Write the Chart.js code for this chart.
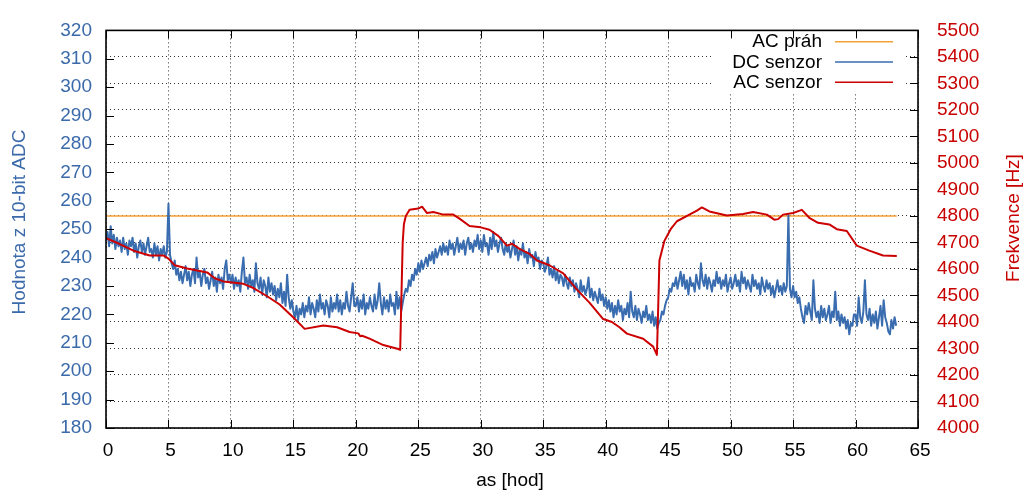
<!DOCTYPE html>
<html>
<head>
<meta charset="utf-8">
<script src="https://cdn.jsdelivr.net/npm/chart.js@4.4.1/dist/chart.umd.min.js"></script>
<style>
  html, body { margin: 0; padding: 0; background: #ffffff; }
  #wrap { width: 1027px; height: 491px; }
</style>
</head>
<body>
<div id="wrap"><canvas id="chart" width="1027" height="491"></canvas></div>
<script>
// Series labels, in legend order
const seriesLabels = ['AC práh', 'DC senzor', 'AC senzor'];

// Frequency threshold (right axis, Hz)
const thresholdHours = [0, 63.3];
const thresholdHz = [4800, 4800];

// DC sensor readings (left axis, raw 10-bit ADC), one sample every 7.5 minutes from hour 0
const dcStartHour = 0;
const dcStepHours = 0.125;
const dcValues = [
  // 0 - 5 h
  246, 249, 244, 251, 245, 248, 243, 247, 244, 246, 242, 247, 243, 245, 241, 246, 244, 247, 242, 245,
  240, 244, 246, 242, 245, 241, 244, 247, 242, 243, 240, 245, 241, 244, 239, 243, 241, 244, 240, 242,
  // 5 - 10 h
  259, 241, 238, 236, 239, 234, 236, 232, 235, 231, 234, 237, 232, 235, 230, 234, 236, 231, 240, 233,
  235, 230, 234, 236, 231, 233, 229, 232, 235, 230, 233, 228, 234, 231, 233, 229, 236, 239, 232, 234,
  // 10 - 15 h
  231, 234, 229, 233, 230, 232, 228, 235, 240, 231, 233, 229, 234, 230, 232, 228, 238, 231, 229, 233,
  227, 232, 230, 226, 233, 228, 231, 227, 230, 225, 229, 226, 231, 224, 228, 223, 234, 226, 222, 225,
  // 15 - 20 h
  221, 219, 223, 218, 222, 220, 224, 219, 223, 221, 226, 220, 224, 222, 219, 225, 221, 227, 222, 224,
  220, 225, 223, 219, 226, 221, 224, 222, 227, 221, 225, 220, 224, 222, 228, 223, 221, 226, 231, 223,
  // 20 - 25 h
  223, 226, 221, 225, 222, 227, 220, 224, 222, 226, 223, 221, 227, 222, 225, 231, 224, 220, 226, 222,
  225, 221, 227, 223, 224, 220, 228, 222, 226, 221, 224, 227, 229, 228, 232, 230, 234, 232, 236, 234,
  // 25 - 30 h
  238, 235, 239, 236, 238, 240, 237, 241, 239, 242, 238, 243, 240, 242, 244, 241, 245, 242, 244, 241,
  246, 243, 245, 241, 244, 247, 242, 245, 243, 246, 241, 245, 247, 243, 245, 242, 246, 244, 248, 243,
  // 30 - 35 h
  246, 242, 248, 244, 245, 241, 247, 243, 249, 244, 246, 242, 245, 247, 243, 241, 245, 242, 244, 240,
  243, 246, 241, 244, 239, 243, 241, 245, 240, 242, 238, 243, 240, 241, 237, 242, 239, 240, 236, 239,
  // 35 - 40 h
  238, 235, 237, 240, 234, 236, 233, 237, 232, 235, 231, 234, 233, 230, 234, 231, 229, 233, 230, 232,
  228, 231, 229, 226, 232, 228, 230, 227, 229, 233, 226, 229, 225, 228, 226, 224, 229, 225, 227, 223,
  // 40 - 45 h
  226, 222, 225, 221, 224, 219, 223, 220, 225, 221, 223, 218, 222, 220, 224, 219, 228, 221, 219, 223,
  218, 222, 220, 217, 221, 219, 223, 218, 220, 217, 221, 216, 219, 215, 217, 218, 221, 220, 223, 225,
  // 45 - 50 h
  226, 229, 228, 231, 230, 233, 229, 232, 235, 230, 234, 229, 232, 227, 233, 230, 231, 228, 234, 231,
  229, 238, 232, 230, 234, 229, 233, 231, 228, 232, 230, 235, 231, 233, 229, 232, 230, 234, 228, 231,
  // 50 - 55 h
  233, 229, 231, 234, 230, 232, 228, 235, 231, 233, 229, 232, 230, 228, 234, 230, 232, 229, 231, 227,
  233, 230, 228, 232, 229, 231, 227, 230, 226, 229, 232, 228, 230, 227, 231, 228, 230, 255, 229, 226,
  // 55 - 60 h
  230, 226, 228, 224, 226, 222, 219, 217, 223, 220, 224, 221, 218, 232, 222, 219, 221, 217, 223, 219,
  222, 218, 220, 223, 217, 221, 219, 228, 218, 221, 216, 220, 217, 219, 215, 218, 213, 217, 216, 220,
  // 60 - 63.25 h
  220, 216, 226, 219, 217, 221, 232, 220, 218, 222, 216, 220, 217, 221, 215, 219, 223, 216, 225, 219,
  217, 214, 213, 218, 215, 219, 216
];

// AC sensor frequency (right axis, Hz)
const acHours = [
  0, 1.1, 2.2, 3.5, 4.6, 5.0, 5.5, 6.5, 8.1, 8.7, 9.4, 11.0, 11.8, 12.9, 13.9, 15.0, 15.9, 17.4,
  18.5, 19.5, 20.2, 20.35, 20.5, 21.1, 22.2, 23.4, 23.55, 23.65, 23.75, 23.85, 24.0, 24.3, 25.0,
  25.3, 25.7, 26.2, 27.0, 27.8, 28.3, 29.1, 30.0, 30.7, 31.4, 32.1, 32.5, 33.1, 33.9, 34.5, 35.5,
  36.6, 37.7, 38.7, 39.8, 40.5, 41.1, 41.7, 43.0, 43.8, 44.1, 44.2, 44.3, 44.7, 45.2, 45.7, 46.7,
  47.3, 47.7, 48.3, 49.7, 51.0, 51.8, 52.9, 53.5, 53.8, 54.2, 55.0, 55.7, 56.3, 57.0, 57.9, 58.5,
  59.3, 60.1, 61.1, 62.2, 63.3
];
const acHz = [
  4716, 4694, 4669, 4651, 4651, 4639, 4614, 4602, 4587, 4565, 4553, 4544, 4528, 4497, 4466, 4417, 4374, 4387,
  4380, 4362, 4357, 4346, 4348, 4337, 4313, 4298, 4295, 4500, 4700, 4770, 4800, 4823, 4828,
  4835, 4811, 4815, 4805, 4805, 4790, 4762, 4757, 4748, 4725, 4688, 4695, 4676, 4657, 4632, 4614,
  4583, 4522, 4473, 4411, 4400, 4380, 4356, 4337, 4307, 4276, 4450, 4632, 4706, 4750, 4780, 4805,
  4820, 4832, 4817, 4802, 4807, 4815, 4805, 4786, 4788, 4805, 4811, 4823, 4793, 4774, 4768, 4750,
  4743, 4688, 4669, 4651, 4649
];

// Axis ranges and tick steps
const hourRange = [0, 65], hourStep = 5;
const adcRange = [180, 320], adcStep = 10;
const hzRange = [4000, 5500], hzStep = 100;

const axisTitles = { x: 'as [hod]', y: 'Hodnota z 10-bit ADC', y2: 'Frekvence [Hz]' };

const COL_ORANGE = '#f3a235';
const COL_BLUE = '#3a6db0';
const COL_RED = '#cc0000';
const COL_BLUE_TEXT = '#3b6aaa';
const COL_RED_TEXT = '#c80000';
const FONT = '"Liberation Sans", Arial, Helvetica, sans-serif';
const FONT_SIZE = 19;

const pairs = (xs, ys) => xs.map((x, i) => ({ x, y: ys[i] }));
const dcPoints = dcValues.map((v, i) => ({ x: dcStartHour + i * dcStepHours, y: v }));

// Frame, inward ticks, axis titles and an opaque key box
const decorations = {
  id: 'decorations',
  afterDatasetsDraw(chart) {
    const ctx = chart.ctx;
    ctx.save();
    // key box
    ctx.fillStyle = '#ffffff';
    ctx.fillRect(712, 28, 194, 65);
    ctx.font = FONT_SIZE + 'px ' + FONT;
    ctx.textAlign = 'right';
    ctx.textBaseline = 'middle';
    chart.data.datasets.forEach((ds, i) => {
      const y = 41.7 + i * 20.3;
      ctx.fillStyle = '#000000';
      ctx.fillText(ds.label, 822, y + 0.5);
      ctx.strokeStyle = ds.borderColor;
      ctx.lineWidth = 1.6;
      ctx.beginPath();
      ctx.moveTo(835, y);
      ctx.lineTo(893, y);
      ctx.stroke();
    });
    ctx.restore();
  },
  afterDraw(chart) {
    const ctx = chart.ctx;
    const a = chart.chartArea;
    const sx = chart.scales.x, sy = chart.scales.y, sy2 = chart.scales.y2;
    const T = 8;
    ctx.save();
    ctx.strokeStyle = '#000000';
    ctx.lineWidth = 1;
    ctx.beginPath();
    sx.ticks.forEach(t => {
      const px = Math.round(sx.getPixelForValue(t.value)) + 0.5;
      ctx.moveTo(px, a.bottom); ctx.lineTo(px, a.bottom - T);
      ctx.moveTo(px, a.top); ctx.lineTo(px, a.top + T);
    });
    sy.ticks.forEach(t => {
      const py = Math.round(sy.getPixelForValue(t.value)) + 0.5;
      ctx.moveTo(a.left, py); ctx.lineTo(a.left + T, py);
    });
    sy2.ticks.forEach(t => {
      const py = Math.round(sy2.getPixelForValue(t.value)) + 0.5;
      ctx.moveTo(a.right, py); ctx.lineTo(a.right - T, py);
    });
    ctx.stroke();
    ctx.lineWidth = 1.6;
    ctx.strokeRect(a.left, a.top, a.right - a.left, a.bottom - a.top);

    ctx.font = FONT_SIZE + 'px ' + FONT;
    ctx.textAlign = 'center';
    ctx.textBaseline = 'middle';
    ctx.fillStyle = '#000000';
    ctx.fillText(axisTitles.x, (a.left + a.right) / 2 - 2, 481);

    ctx.save();
    ctx.translate(20, 222);
    ctx.rotate(-Math.PI / 2);
    ctx.fillStyle = COL_BLUE_TEXT;
    ctx.fillText(axisTitles.y, 0, 0);
    ctx.restore();

    ctx.save();
    ctx.translate(1014, 218);
    ctx.rotate(-Math.PI / 2);
    ctx.fillStyle = COL_RED_TEXT;
    ctx.fillText(axisTitles.y2, 0, 0);
    ctx.restore();
    ctx.restore();
  }
};

const dotted = { display: false, dash: [1, 3] };
const plainNumber = v => String(v);

new Chart(document.getElementById('chart'), {
  type: 'line',
  data: {
    datasets: [
      { label: seriesLabels[0], data: pairs(thresholdHours, thresholdHz), yAxisID: 'y2',
        borderColor: COL_ORANGE, borderWidth: 1.5, order: 2 },
      { label: seriesLabels[1], data: dcPoints, yAxisID: 'y',
        borderColor: COL_BLUE, borderWidth: 2, order: 1 },
      { label: seriesLabels[2], data: pairs(acHours, acHz), yAxisID: 'y2',
        borderColor: COL_RED, borderWidth: 2, order: 0 }
    ]
  },
  options: {
    responsive: false,
    animation: false,
    devicePixelRatio: 1,
    layout: { padding: { top: 22, left: 0, right: 0, bottom: 0 } },
    elements: { point: { radius: 0 }, line: { tension: 0, borderJoinStyle: 'round' } },
    plugins: { legend: { display: false }, tooltip: { enabled: false } },
    scales: {
      x: {
        type: 'linear', min: hourRange[0], max: hourRange[1],
        ticks: { stepSize: hourStep, color: '#000000', padding: 11, maxRotation: 0, labelOffset: 2,
                 callback: plainNumber, font: { family: FONT, size: FONT_SIZE } },
        grid: { color: 'rgba(0,0,0,0.8)', lineWidth: 1, drawTicks: false },
        border: dotted,
        afterFit(s) { s.height = 63; }
      },
      y: {
        position: 'left', min: adcRange[0], max: adcRange[1],
        ticks: { stepSize: adcStep, color: COL_BLUE_TEXT, padding: 14,
                 callback: plainNumber, font: { family: FONT, size: FONT_SIZE } },
        grid: { display: false, drawTicks: false },
        border: { display: false },
        afterFit(s) { s.width = 106; }
      },
      y2: {
        position: 'right', min: hzRange[0], max: hzRange[1],
        ticks: { stepSize: hzStep, color: COL_RED_TEXT, padding: 19,
                 callback: plainNumber, font: { family: FONT, size: FONT_SIZE } },
        grid: { color: 'rgba(0,0,0,0.8)', lineWidth: 1, drawTicks: false },
        border: dotted,
        afterFit(s) { s.width = 109; }
      }
    }
  },
  plugins: [decorations]
});
</script>
</body>
</html>
